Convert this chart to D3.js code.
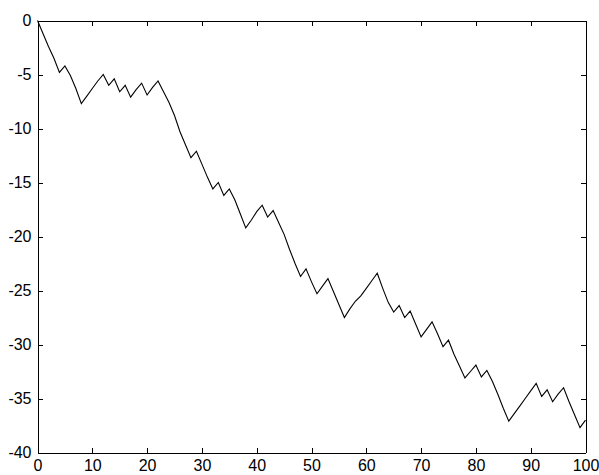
<!DOCTYPE html>
<html>
<head>
<meta charset="utf-8">
<script src="https://cdn.jsdelivr.net/npm/d3@7"></script>
<style>
  html, body { margin: 0; padding: 0; background: #fff; }
  svg { display: block; }
</style>
</head>
<body>
<svg id="chart" width="599" height="475"></svg>
<script>
const xValues = d3.range(0, 101);
const yValues = [
  0, -1.2, -2.4, -3.5, -4.8, -4.2, -5.1, -6.3, -7.7, -7.0,
  -6.3, -5.6, -5.0, -6.0, -5.4, -6.6, -6.0, -7.1, -6.4, -5.8,
  -6.9, -6.2, -5.6, -6.6, -7.6, -8.8, -10.3, -11.5, -12.7, -12.1,
  -13.3, -14.5, -15.6, -15.0, -16.2, -15.6, -16.6, -17.9, -19.2, -18.5,
  -17.7, -17.1, -18.2, -17.6, -18.7, -19.8, -21.2, -22.5, -23.7, -23.0,
  -24.2, -25.3, -24.6, -23.9, -25.1, -26.3, -27.5, -26.7, -26.0, -25.5,
  -24.8, -24.1, -23.4, -24.8, -26.1, -27.0, -26.4, -27.5, -26.9, -28.1,
  -29.3, -28.6, -27.9, -29.0, -30.2, -29.6, -30.9, -32.0, -33.1, -32.5,
  -31.9, -33.0, -32.4, -33.4, -34.6, -35.9, -37.1, -36.4, -35.7, -35.0,
  -34.3, -33.6, -34.8, -34.2, -35.3, -34.6, -34.0, -35.3, -36.5, -37.7,
  -37.0
];
const xTicks = [0, 10, 20, 30, 40, 50, 60, 70, 80, 90, 100];
const yTicks = [0, -5, -10, -15, -20, -25, -30, -35, -40];

const svg = d3.select("#chart");
svg.append("rect").attr("width", 599).attr("height", 475).attr("fill", "#fff");

const x = d3.scaleLinear().domain([0, 100]).range([37.5, 585.5]);
const y = d3.scaleLinear().domain([-40, 0]).range([452.5, 20.5]);

const font = "'Liberation Sans', Arial, sans-serif";

function style(g) {
  g.selectAll("path.domain").attr("stroke", "#000").attr("stroke-width", 1).attr("shape-rendering", "crispEdges");
  g.selectAll(".tick line").attr("stroke", "#000").attr("stroke-width", 1).attr("shape-rendering", "crispEdges");
  g.selectAll(".tick text").attr("fill", "#000").attr("font-family", font).attr("font-size", "16px");
}

svg.append("g")
  .attr("transform", `translate(0,${y(-40)})`)
  .call(d3.axisBottom(x).tickValues(xTicks).tickSizeInner(-5).tickSizeOuter(0).tickPadding(7).tickFormat(d3.format("d")))
  .call(style);

svg.append("g")
  .attr("transform", `translate(0,${y(0)})`)
  .call(d3.axisTop(x).tickValues(xTicks).tickSizeInner(-5).tickSizeOuter(0).tickFormat(""))
  .call(style);

svg.append("g")
  .attr("transform", `translate(${x(0)},0)`)
  .call(d3.axisLeft(y).tickValues(yTicks).tickSizeInner(-5).tickSizeOuter(0).tickPadding(6).tickFormat(d => d3.format("d")(d).replace("−", "-")))
  .call(style);

svg.append("g")
  .attr("transform", `translate(${x(100)},0)`)
  .call(d3.axisRight(y).tickValues(yTicks).tickSizeInner(-5).tickSizeOuter(0).tickFormat(""))
  .call(style);

const data = xValues.map((v, i) => [v, yValues[i]]);
svg.append("path")
  .datum(data)
  .attr("fill", "none")
  .attr("stroke", "#000")
  .attr("stroke-width", 1.1)
  .attr("d", d3.line().x(d => x(d[0])).y(d => y(d[1])));
</script>
</body>
</html>
